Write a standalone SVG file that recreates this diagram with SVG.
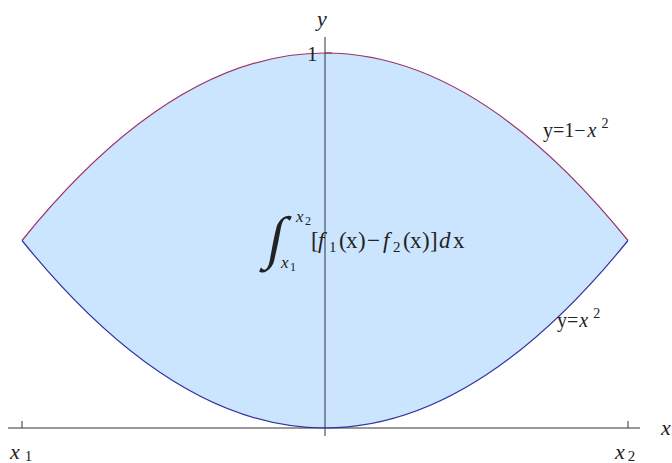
<svg xmlns="http://www.w3.org/2000/svg" width="672" height="463" viewBox="0 0 672 463">
<style>
text{font-family:"Liberation Serif","Times New Roman",serif;fill:#222}
.it{font-style:italic}
.ax{stroke:#333;stroke-width:1;fill:none}
</style>
<rect width="672" height="463" fill="#fff"/>
<g id="region">
<path d="M22,240.5 Q325,-134.5 628,240.5 Q325,615.5 22,240.5 Z" fill="#cce5ff"/>
</g>
<g id="connectors">
<path class="ax" d="M8,428 H640"/>
<path class="ax" d="M325,37 V436"/>
<path class="ax" d="M22,421 V428 M628,421 V428 M325,53 H332"/>
</g>
<g id="upper-curve">
<path d="M22,240.5 Q325,-134.5 628,240.5" fill="none" stroke="#993366" stroke-width="1.2"/>
</g>
<g id="lower-curve">
<path d="M22,240.5 Q325,615.5 628,240.5" fill="none" stroke="#3333a0" stroke-width="1.2"/>
</g>
<g id="labels">
<text x="317" y="26" class="it" font-size="22">y</text>
<text x="307" y="61" font-size="21">1</text>
<text x="661" y="435" class="it" font-size="22">x</text>
<text x="10" y="459" font-size="22"><tspan class="it">x</tspan><tspan font-size="15" dx="5" dy="2">1</tspan></text>
<text x="615" y="459" font-size="22"><tspan class="it">x</tspan><tspan font-size="15" dx="3" dy="2">2</tspan></text>
<text x="543" y="137" font-size="20">y=1−<tspan class="it" dx="2">x</tspan><tspan font-size="14" dy="-9" dx="5">2</tspan></text>
<text x="557" y="327" font-size="20">y=<tspan class="it" dx="1">x</tspan><tspan font-size="14" dy="-9" dx="5">2</tspan></text>
</g>
<g id="formula">
<text transform="translate(265,257) skewX(-11)" font-size="58">∫</text>
<text x="296" y="222" class="it" font-size="17">x</text>
<text x="305" y="225" font-size="12">2</text>
<text x="281" y="268" class="it" font-size="17">x</text>
<text x="290" y="271" font-size="12">1</text>
<text font-size="23" y="248"><tspan x="311">[</tspan><tspan x="318" class="it">f</tspan><tspan x="329" y="252" font-size="15">1</tspan><tspan x="339" y="248">(</tspan><tspan x="346">x</tspan><tspan x="358">)</tspan><tspan x="367">−</tspan><tspan x="383" class="it">f</tspan><tspan x="393" y="252" font-size="15">2</tspan><tspan x="403" y="248">(</tspan><tspan x="410">x</tspan><tspan x="422">)</tspan><tspan x="430">]</tspan><tspan x="439" class="it">d</tspan><tspan x="453">x</tspan></text>
</g>
</svg>
